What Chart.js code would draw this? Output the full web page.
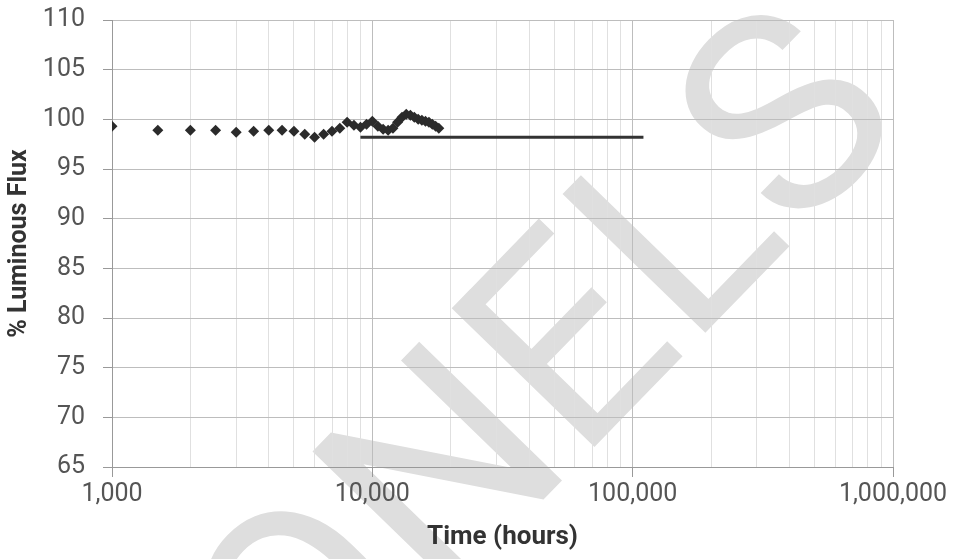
<!DOCTYPE html>
<html>
<head>
<meta charset="utf-8">
<script src="https://cdn.jsdelivr.net/npm/chart.js@4/dist/chart.umd.min.js"></script>
<style>
  html, body { margin: 0; padding: 0; background: #fff; }
  #wrap { width: 955px; height: 559px; }
</style>
</head>
<body>
<div id="wrap"><canvas id="fluxChart" width="955" height="559"></canvas></div>
<script>
// measured hours and % luminous flux
const hours = [1000, 1500, 2000, 2500, 3000, 3500, 4000, 4500, 5000, 5500,
    6000, 6500, 7000, 7500, 8000, 8500, 9000, 9500, 10000, 10500,
    11000, 11500, 12000, 12500, 13000, 13500, 14000, 14500, 15000, 15500,
    16000, 16500, 17000, 17500, 18000];
const flux = [99.3, 98.9, 98.9, 98.9, 98.7, 98.8, 98.9, 98.9, 98.8, 98.5,
    98.2, 98.5, 98.8, 99.1, 99.7, 99.4, 99.2, 99.5, 99.8, 99.3,
    99.0, 98.9, 99.1, 99.7, 100.2, 100.5, 100.4, 100.2, 100.0, 99.9,
    99.8, 99.7, 99.5, 99.3, 99.1];

// projected line
const lineHours = [9000, 110000];
const lineFlux = [98.2, 98.2];

const yTicks = [65, 70, 75, 80, 85, 90, 95, 100, 105, 110];
const xLabels = ['1,000', '10,000', '100,000', '1,000,000'];

const isDecade = (v) => Math.abs(Math.log10(v) - Math.round(Math.log10(v))) < 1e-9;

// faint diagonal watermark behind the grid
const watermark = {
    id: 'watermark',
    beforeDraw(chart) {
        const c = chart.ctx;
        c.save();
        c.translate(305, 745);
        c.rotate(-0.80);
        c.font = '280px Roboto';
        c.textAlign = 'left';
        c.textBaseline = 'alphabetic';
        c.fillStyle = '#dedede';
        c.fillText('ONELS', 0, 0);
        c.restore();
    },
};

const ctx = document.getElementById('fluxChart').getContext('2d');
new Chart(ctx, {
    type: 'scatter',
    data: {
        datasets: [
            {
                label: 'Measured',
                data: hours.map((h, i) => ({ x: h, y: flux[i] })),
                pointStyle: 'rectRot',
                pointRadius: 5.5,
                pointHoverRadius: 5.5,
                backgroundColor: '#2b2b2b',
                borderColor: '#2b2b2b',
                borderWidth: 0,
            },
            {
                label: 'Projection',
                data: lineHours.map((h, i) => ({ x: h, y: lineFlux[i] })),
                showLine: true,
                borderColor: '#333',
                borderWidth: 3,
                pointRadius: 0,
            },
        ],
    },
    options: {
        responsive: false,
        animation: false,
        layout: { padding: { top: 20, right: 62, left: 0, bottom: 0 } },
        plugins: {
            legend: { display: false },
            tooltip: { enabled: false },
        },
        scales: {
            x: {
                type: 'logarithmic',
                min: 1000,
                max: 1000000,
                afterBuildTicks(axis) {
                    const t = [];
                    for (let e = 3; e < 6; e++) {
                        for (let m = 1; m < 10; m++) t.push({ value: m * Math.pow(10, e) });
                    }
                    t.push({ value: 1000000 });
                    axis.ticks = t;
                },
                afterFit(axis) {
                    axis.height = 92;
                    axis.paddingLeft = 0;
                    axis.paddingRight = 0;
                },
                ticks: {
                    autoSkip: false,
                    maxRotation: 0,
                    padding: 3,
                    color: '#555',
                    font: { family: 'Roboto', size: 25 },
                    callback(v) {
                        if (!isDecade(v)) return '';
                        return xLabels[Math.round(Math.log10(v)) - 3];
                    },
                },
                grid: {
                    color: (c) => (c.tick && isDecade(c.tick.value) ? '#bdbdbd' : '#e0e0e0'),
                    tickColor: (c) => (c.tick && isDecade(c.tick.value) ? '#999' : 'rgba(0,0,0,0)'),
                    tickLength: 10,
                },
                border: { color: '#999' },
                title: {
                    display: true,
                    text: 'Time (hours)',
                    color: '#333',
                    font: { family: 'Roboto', size: 26, weight: 'bold' },
                    padding: { top: 0, bottom: 6 },
                },
            },
            y: {
                min: 65,
                max: 110,
                afterBuildTicks(axis) {
                    axis.ticks = yTicks.map((v) => ({ value: v }));
                },
                afterFit(axis) {
                    axis.width = 112;
                    axis.paddingTop = 0;
                    axis.paddingBottom = 0;
                },
                ticks: {
                    padding: 18,
                    color: '#555',
                    font: { family: 'Roboto', size: 25 },
                },
                grid: {
                    color: '#bdbdbd',
                    tickColor: '#999',
                    tickLength: 9,
                },
                border: { color: '#999' },
                title: {
                    display: true,
                    text: '% Luminous Flux',
                    color: '#333',
                    font: { family: 'Roboto', size: 25, weight: 'bold' },
                    padding: { top: 5, bottom: 0 },
                },
            },
        },
    },
    plugins: [watermark],
});
</script>
</body>
</html>
